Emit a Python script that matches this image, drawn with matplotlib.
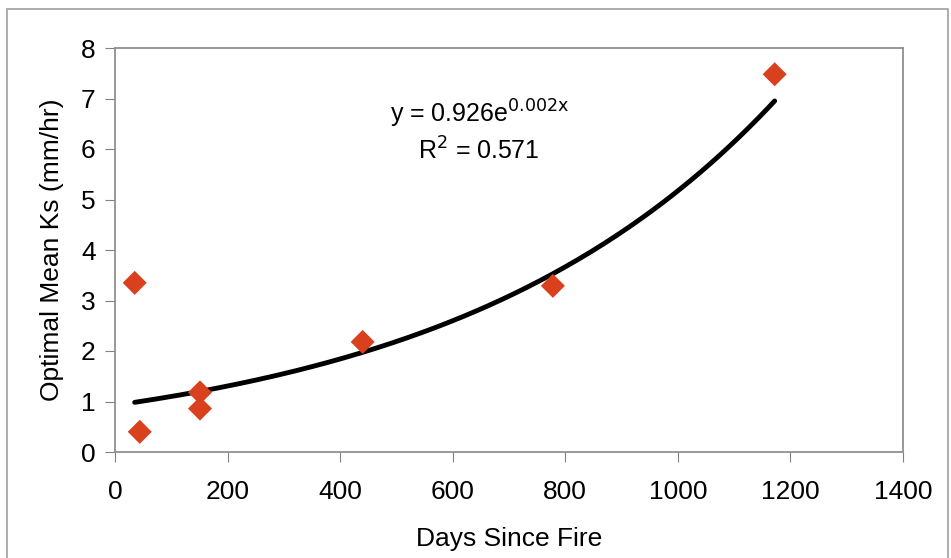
import matplotlib.pyplot as plt
import numpy as np
from matplotlib.patches import Rectangle

plt.rcParams['font.family'] = ['Liberation Sans', 'DejaVu Sans']

# Data
days = [35, 44, 151, 151, 440, 778, 1172]
ks = [3.35, 0.40, 1.18, 0.86, 2.18, 3.29, 7.48]

# Exponential trendline
fit_a = 0.926
fit_b = 0.00172
fit_start = 35
fit_end = 1172

x_ticks = [0, 200, 400, 600, 800, 1000, 1200, 1400]
y_ticks = [0, 1, 2, 3, 4, 5, 6, 7, 8]

fig = plt.figure(figsize=(9.51, 5.58), dpi=100)
ax = fig.add_axes([115 / 951, 1 - 452 / 558, 788 / 951, 404 / 558])

xs = np.linspace(fit_start, fit_end, 200)
ax.plot(xs, fit_a * np.exp(fit_b * xs), color='black', lw=3.5,
        solid_capstyle='round', zorder=2)
ax.scatter(days, ks, marker='D', s=150, color='#d8401e', edgecolor='none',
           zorder=3)

ax.set_xlim(0, 1400)
ax.set_ylim(0, 8)
ax.set_xticks(x_ticks)
ax.set_yticks(y_ticks)
ax.tick_params(labelsize=19, length=7, color='#808080')
ax.tick_params(axis='x', pad=13)
ax.tick_params(axis='y', pad=7)
for s in ax.spines.values():
    s.set_color('#909090')
    s.set_linewidth(1.3)

ax.set_xlabel('Days Since Fire', fontsize=19, labelpad=17)
ax.set_ylabel('Optimal Mean Ks (mm/hr)', fontsize=19, labelpad=12)

# trendline label
ax.text(648, 6.53, r'y = 0.926e$^{\mathrm{0.002x}}$', fontsize=18, ha='center',
        va='baseline')
ax.text(646, 5.8, r'R$^\mathrm{2}$ = 0.571', fontsize=18, ha='center',
        va='baseline')

# outer chart border
fig.patches.append(Rectangle((7 / 951, -0.1), 941 / 951, 1.1 - 9 / 558,
                             transform=fig.transFigure, fill=False,
                             edgecolor='#a0a0a0', lw=1.2))

fig.savefig('out.png', dpi=100)
